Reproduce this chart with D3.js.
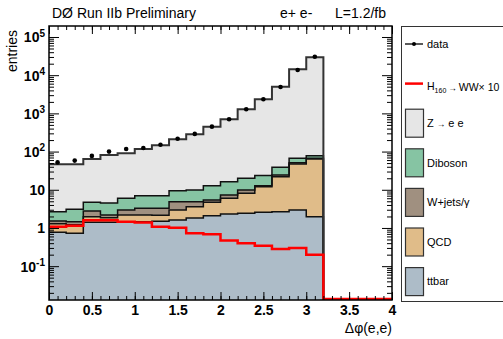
<!DOCTYPE html>
<html>
<head>
<meta charset="utf-8">
<script src="https://cdn.jsdelivr.net/npm/d3@7"></script>
<style>
  body { margin: 0; background: #fff; }
  svg { font-family: "Liberation Sans", Arial, sans-serif; }
</style>
</head>
<body>
<svg id="chart"></svg>
<script>
// bins of delta phi (lower edges), width 0.2
const binLow = [0, 0.2, 0.4, 0.6, 0.8, 1.0, 1.2, 1.4, 1.6, 1.8, 2.0, 2.2, 2.4, 2.6, 2.8, 3.0];
const binWidth = 0.2;

// stacked backgrounds, bottom to top
const ttbar = [0.77, 0.73, 1.41, 1.41, 1.41, 1.46, 1.5, 1.62, 1.83, 2.1, 2.33, 2.43, 2.58, 2.67, 2.96, 1.98];
const qcd = [0.52, 0.49, 0.57, 0.45, 0.78, 0.73, 0.65, 1.34, 1.78, 2.61, 3.66, 5.67, 9.48, 19.3, 44.4, 62];
const wjets = [0.23, 0.24, 0.81, 0.33, 0.77, 1.09, 1.13, 1.92, 1.27, 0.7, 1.32, 1.78, 0.74, 2.4, 3.8, 2.8];
const diboson = [1.15, 1.63, 1.92, 2.32, 3.03, 3.73, 3.73, 4.59, 5.0, 7.4, 9.0, 10.1, 10.7, 14.4, 15.6, 11.3];
const zee = [43.8, 43.4, 59.3, 77, 84.3, 110, 139, 200, 274, 436, 685, 1260, 2317, 4960, 14190, 29320];

const dataPts = [52, 58, 77, 100, 117, 124, 151, 217, 290, 449, 704, 1280, 2340, 4900, 13700, 30400];
const higgs = [1.08, 1.15, 1.59, 1.59, 1.46, 1.38, 1.08, 1.02, 0.73, 0.68, 0.47, 0.4, 0.34, 0.28, 0.3, 0.2];

const xTicks = [0, 0.5, 1, 1.5, 2, 2.5, 3, 3.5, 4];
const yTicks = [0.1, 1, 10, 100, 1000, 10000, 100000];
const yTickLabels = [["10", "-1"], ["1", ""], ["10", ""], ["10", "2"], ["10", "3"], ["10", "4"], ["10", "5"]];

const samples = [
  { key: "zee", label: ["Z ", "\u2192", " e e"], color: "#e6e6e6" },
  { key: "diboson", label: ["Diboson"], color: "#86c4a3" },
  { key: "wjets", label: ["W+jets/\u03b3"], color: "#a09080" },
  { key: "qcd", label: ["QCD"], color: "#e0bc89" },
  { key: "ttbar", label: ["ttbar"], color: "#adbcc8" }
];

const width = 503;
const height = 339;
const margin = { top: 26, right: 111, bottom: 39, left: 49 };
const x0 = margin.left, x1 = width - margin.right;
const yTop = margin.top, yBot = height - margin.bottom;

const svg = d3.select("#chart").attr("width", width).attr("height", height);

const xScale = d3.scaleLinear().domain([0, 4]).range([x0, x1]);
const yScale = d3.scaleLog().domain([0.013, 1.94e5]).range([yBot, yTop]);
const yc = (v) => (v <= 0 ? yBot + 5 : yScale(v));

const table = binLow.map((lo, i) => ({
  lo, hi: lo + binWidth,
  ttbar: ttbar[i], qcd: qcd[i], wjets: wjets[i], diboson: diboson[i], zee: zee[i]
}));
const keys = ["ttbar", "qcd", "wjets", "diboson", "zee"];
const stacked = d3.stack().keys(keys)(table);
const colorOf = Object.fromEntries(samples.map((s) => [s.key, s.color]));

svg.append("defs").append("clipPath").attr("id", "plotClip")
  .append("rect").attr("x", x0).attr("y", yTop).attr("width", x1 - x0).attr("height", yBot - yTop);

const plot = svg.append("g").attr("clip-path", "url(#plotClip)");

// step points for a layer
const stepPts = (layer) => layer.flatMap((d) => [
  { x: d.data.lo, y0: d[0], y1: d[1] },
  { x: d.data.hi, y0: d[0], y1: d[1] }
]);

const area = d3.area()
  .x((p) => xScale(p.x))
  .y0((p) => (p.y0 <= 0 ? yBot + 5 : yScale(p.y0)))
  .y1((p) => yScale(p.y1));

plot.selectAll("path.layer")
  .data(stacked)
  .join("path")
  .attr("class", "layer")
  .attr("fill", (d) => colorOf[d.key])
  .attr("d", (d) => area(stepPts(d)));

const line = d3.line().x((p) => xScale(p[0])).y((p) => yc(p[1]));

// outlines on top of each layer
stacked.forEach((layer, li) => {
  const pts = [[0, 0]];
  layer.forEach((d) => { pts.push([d.data.lo, d[1]]); pts.push([d.data.hi, d[1]]); });
  pts.push([3.2, 0]);
  plot.append("path")
    .attr("fill", "none")
    .attr("stroke", li === keys.length - 1 ? "#333" : "#111")
    .attr("stroke-width", li === keys.length - 1 ? 2 : 1.5)
    .attr("d", line(pts));
});

// Higgs x 10 line
const hPts = [];
higgs.forEach((v, i) => { hPts.push([binLow[i], v]); hPts.push([binLow[i] + binWidth, v]); });
hPts.push([3.2, 0]);
hPts.push([4, 0]);
plot.append("path")
  .attr("fill", "none")
  .attr("stroke", "#ff0000")
  .attr("stroke-width", 2.5)
  .attr("d", d3.line().x((p) => xScale(p[0])).y((p) => (p[1] <= 0 ? yBot - 1 : yScale(p[1])))(hPts));

// data points
plot.selectAll("circle.data")
  .data(dataPts)
  .join("circle")
  .attr("class", "data")
  .attr("cx", (d, i) => xScale(binLow[i] + binWidth / 2))
  .attr("cy", (d) => yScale(d))
  .attr("r", 2.3)
  .attr("fill", "#000");

// axes, ticks pointing inward
const minorX = d3.range(0, 41).map((i) => i / 10);
const minorY = [];
for (let e = -2; e <= 5; e++) for (let m = 2; m <= 9; m++) {
  const v = m * Math.pow(10, e);
  if (v >= 0.013 && v <= 1.94e5) minorY.push(v);
}

const clean = (g) => g.call((g) => g.select(".domain").remove());

svg.append("g").attr("transform", `translate(0,${yBot})`)
  .call(d3.axisBottom(xScale).tickValues(minorX).tickSize(-4).tickFormat("")).call(clean);
svg.append("g").attr("transform", `translate(0,${yTop})`)
  .call(d3.axisTop(xScale).tickValues(minorX).tickSize(-4).tickFormat("")).call(clean);
svg.append("g").attr("transform", `translate(0,${yBot})`)
  .call(d3.axisBottom(xScale).tickValues(xTicks).tickSize(-8).tickPadding(5).tickFormat(d3.format("")))
  .call(clean)
  .call((g) => g.selectAll("text")
    .attr("font-size", 14).attr("font-weight", "bold").attr("fill", "#000")
    .attr("font-family", "'Liberation Sans', Arial, sans-serif"));
svg.append("g").attr("transform", `translate(0,${yTop})`)
  .call(d3.axisTop(xScale).tickValues(xTicks).tickSize(-8).tickFormat("")).call(clean);

svg.append("g").attr("transform", `translate(${x0},0)`)
  .call(d3.axisLeft(yScale).tickValues(minorY).tickSize(-5).tickFormat("")).call(clean);
svg.append("g").attr("transform", `translate(${x1},0)`)
  .call(d3.axisRight(yScale).tickValues(minorY).tickSize(-5).tickFormat("")).call(clean);
svg.append("g").attr("transform", `translate(${x1},0)`)
  .call(d3.axisRight(yScale).tickValues(yTicks).tickSize(-10).tickFormat("")).call(clean);

const yAxis = svg.append("g").attr("transform", `translate(${x0},0)`)
  .call(d3.axisLeft(yScale).tickValues(yTicks).tickSize(-10).tickPadding(3).tickFormat(""))
  .call(clean);
yAxis.selectAll(".tick text").each(function (d) {
  const lab = yTickLabels[yTicks.indexOf(d)];
  const t = d3.select(this)
    .attr("font-size", 14).attr("font-weight", "bold").attr("fill", "#000")
    .attr("font-family", "'Liberation Sans', Arial, sans-serif")
    .attr("x", -4).attr("dy", "0.35em");
  t.append("tspan").text(lab[0]);
  if (lab[1]) t.append("tspan").attr("font-size", 10).attr("dy", "-0.55em").text(lab[1]);
});
svg.selectAll(".tick line").attr("stroke", "#000");

// frame
svg.append("rect")
  .attr("x", x0).attr("y", yTop).attr("width", x1 - x0).attr("height", yBot - yTop)
  .attr("fill", "none").attr("stroke", "#000").attr("stroke-width", 1.5);

// axis titles
svg.append("text")
  .attr("x", x1).attr("y", 333)
  .attr("text-anchor", "end").attr("font-size", 14)
  .text("\u0394\u03c6(e,e)");

svg.append("text")
  .attr("transform", `translate(17,${yTop + 4}) rotate(-90)`)
  .attr("text-anchor", "end").attr("font-size", 14)
  .text("entries");

// header
svg.append("text").attr("x", 52).attr("y", 18).attr("font-size", 14).text("D\u00d8 Run IIb Preliminary");
svg.append("text").attr("x", 280).attr("y", 18).attr("font-size", 14).text("e+ e-");
svg.append("text").attr("x", 335).attr("y", 18).attr("font-size", 14).text("L=1.2/fb");

// legend
const lg = svg.append("g");
lg.append("rect")
  .attr("x", 401.5).attr("y", 26.5).attr("width", 110).attr("height", 275)
  .attr("fill", "#fff").attr("stroke", "#333").attr("stroke-width", 1);

const rowY = (i) => 44 + i * 39.6;
const lx = 405, lw = 18, tx = 427;

lg.append("line").attr("x1", lx).attr("x2", lx + lw).attr("y1", rowY(0)).attr("y2", rowY(0))
  .attr("stroke", "#000").attr("stroke-width", 1.3);
lg.append("circle").attr("cx", lx + lw / 2).attr("cy", rowY(0)).attr("r", 2).attr("fill", "#000");
lg.append("text").attr("x", tx).attr("y", rowY(0)).attr("dy", "0.35em").attr("font-size", 11).text("data");

lg.append("line").attr("x1", lx).attr("x2", lx + lw).attr("y1", rowY(1)).attr("y2", rowY(1))
  .attr("stroke", "#ff0000").attr("stroke-width", 2.5);
const ht = lg.append("text").attr("x", tx).attr("y", rowY(1) + 3).attr("dy", "0.35em").attr("font-size", 10.5);
ht.append("tspan").text("H");
ht.append("tspan").attr("font-size", 7).attr("dy", "0.35em").text("160");
ht.append("tspan").attr("dy", "-0.25em").attr("dx", 2).attr("font-size", 8.5).text("\u2192");
ht.append("tspan").attr("dx", 2).text("WW\u00d7 10");

samples.forEach((s, i) => {
  const cy = rowY(i + 2);
  lg.append("rect")
    .attr("x", lx + 0.5).attr("y", cy - 14).attr("width", lw).attr("height", 28)
    .attr("fill", s.color).attr("stroke", "#333").attr("stroke-width", 1.2);
  const t = lg.append("text").attr("x", tx).attr("y", cy).attr("dy", "0.35em").attr("font-size", 11);
  s.label.forEach((part) => {
    t.append("tspan").attr("font-size", part === "\u2192" ? 8.5 : 11).text(part);
  });
});
</script>
</body>
</html>
